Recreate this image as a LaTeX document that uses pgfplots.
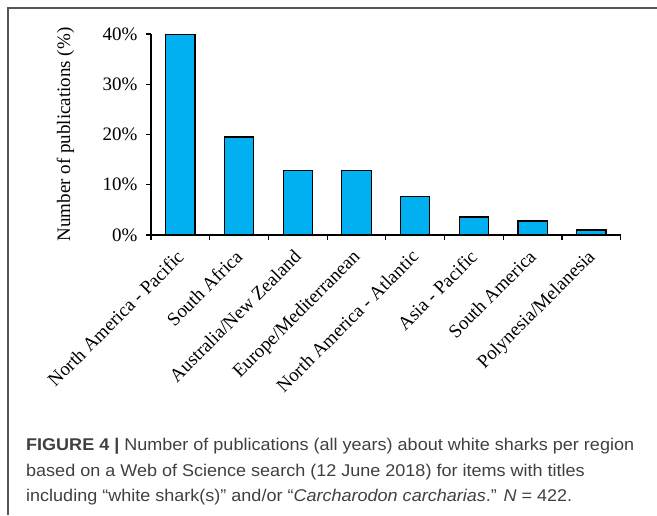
\documentclass[border=0pt]{standalone}
\usepackage{pgfplots}
\pgfplotsset{compat=1.18}
\usepackage{fontspec}
\setmainfont{Liberation Serif}
\newfontfamily\capfont[FakeStretch=1.06]{Liberation Sans}
\definecolor{barblue}{HTML}{00B0F0}
\definecolor{framegray}{HTML}{555555}
\definecolor{captext}{HTML}{404040}

\begin{document}
\begin{tikzpicture}
  \path[use as bounding box] (0pt,0pt) rectangle (657pt,-515pt);
  % frame of the figure panel
  \draw[framegray, line width=1.2pt] (8pt,-515pt) -- (8pt,-8pt) -- (657pt,-8pt);

\begin{axis}[
  at={(151pt,-235pt)},
  anchor=south west,
  scale only axis,
  width=469.7pt,
  height=201pt,
  xmin=-0.5, xmax=7.5,
  ymin=0, ymax=40,
  axis x line=bottom,
  axis y line=left,
  axis line style={-, line width=1.2pt, black},
  tick align=outside,
  major tick length=5pt,
  tick style={line width=1.2pt, black},
  font=\fontsize{19}{22}\selectfont,
  ylabel={Number of publications (\%)},
  ylabel style={at={(axis description cs:-0.182,0.5)}, anchor=center},
  ytick={0,10,20,30,40},
  yticklabels={0\%,10\%,20\%,30\%,40\%},
  yticklabel style={xshift=-5pt},
  xtick={-0.5,0.5,...,7.5},
  xticklabel={\relax},
  extra x ticks={0,1,2,3,4,5,6,7},
  extra x tick labels={North America - Pacific, South Africa, Australia/New Zealand, Europe/Mediterranean, North America - Atlantic, Asia - Pacific, South America, Polynesia/Melanesia},
  extra x tick style={major tick length=0pt},
  xticklabel style={rotate=45, anchor=north east, inner sep=0pt, xshift=-13pt, yshift=-6pt},
]
\addplot[ybar, bar width=29.3pt, fill=barblue, draw=black, line width=1.2pt] coordinates {
  (0, 40.0)
  (1, 19.5)
  (2, 12.8)
  (3, 12.8)
  (4, 7.6)
  (5, 3.6)
  (6, 2.8)
  (7, 1.0)
};
\end{axis}

  \begin{scope}[captext]
    \node[anchor=base west, inner sep=0pt, font=\capfont\fontsize{17}{26}\selectfont] at (26pt,-450pt)
      {\textbf{FIGURE 4 |} Number of publications (all years) about white sharks per region};
    \node[anchor=base west, inner sep=0pt, font=\capfont\fontsize{17}{26}\selectfont] at (26pt,-476pt)
      {based on a Web of Science search (12 June 2018) for items with titles};
    \node[anchor=base west, inner sep=0pt, font=\capfont\fontsize{17}{26}\selectfont] at (26pt,-501.5pt)
      {including “white shark(s)” and/or “\textit{Carcharodon carcharias}.” \textit{N} = 422.};
  \end{scope}
\end{tikzpicture}
\end{document}
